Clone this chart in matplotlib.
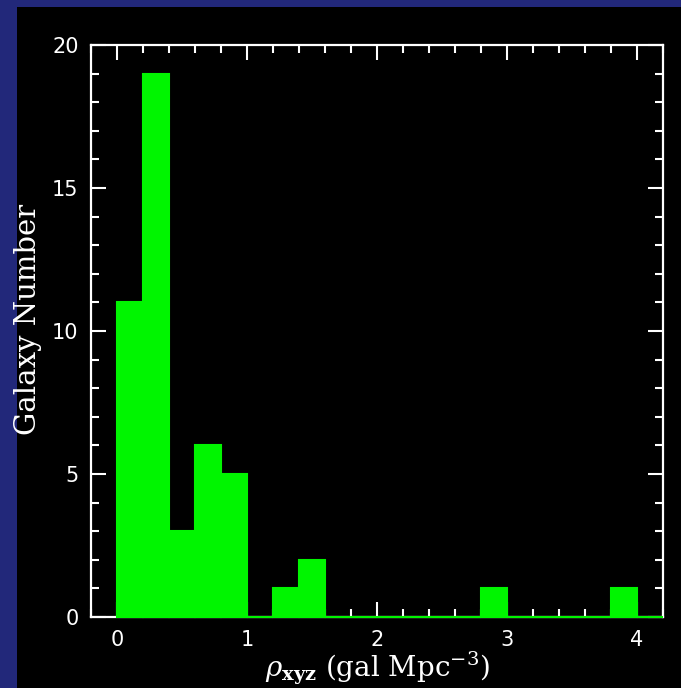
import numpy as np
import matplotlib
matplotlib.use('Agg')
import matplotlib.pyplot as plt
from matplotlib.patches import Rectangle

# histogram bins (gal Mpc^-3) and counts
bin_edges = [0.0, 0.2, 0.4, 0.6, 0.8, 1.0, 1.2, 1.4, 1.6, 1.8, 2.0,
             2.2, 2.4, 2.6, 2.8, 3.0, 3.2, 3.4, 3.6, 3.8, 4.0, 4.2]
counts = [11, 19, 3, 6, 5, 0, 1, 2, 0, 0, 0,
          0, 0, 0, 1, 0, 0, 0, 0, 1, 0]
x_ticks = [0, 1, 2, 3, 4]
y_ticks = [0, 5, 10, 15, 20]

plt.rcParams['mathtext.fontset'] = 'dejavuserif'

navy = '#22287a'
green = '#00f500'

fig = plt.figure(figsize=(6.81, 6.88), dpi=100, facecolor=navy)
# black panel, navy strip left and top
fig.patches.append(Rectangle((17 / 681, 0), 1, 1 - 7 / 688, transform=fig.transFigure,
                             facecolor='black', edgecolor='none', zorder=-5))

ax = fig.add_axes([91 / 681, 1 - 617 / 688, (663 - 91) / 681, (617 - 45) / 688])
ax.set_facecolor('black')

widths = np.diff(bin_edges)
ax.bar(bin_edges[:-1], counts, width=widths, align='edge', color=green,
       edgecolor=green, linewidth=1.5, zorder=3, clip_on=False)

ax.set_xlim(-0.2, 4.2)
ax.set_ylim(0, 20)
ax.set_xticks(x_ticks)
ax.set_yticks(y_ticks)
ax.set_xticks(np.arange(-0.2, 4.21, 0.2), minor=True)
ax.set_yticks(np.arange(0, 20.1, 1), minor=True)

for s in ax.spines.values():
    s.set_color('white')
    s.set_linewidth(1.6)

ax.tick_params(which='both', direction='in', top=True, right=True, colors='white')
ax.tick_params(which='major', length=11, width=1.5, labelsize=15, pad=9)
ax.tick_params(which='minor', length=5.5, width=1.5)

ax.set_xlabel(r'$\rho_{\mathbf{xyz}}$ (gal Mpc$^{-3}$)', family='DejaVu Serif',
              fontsize=20, color='white', labelpad=0)
ax.set_ylabel('Galaxy Number', family='DejaVu Serif', fontsize=21, color='white')
ax.yaxis.set_label_coords(-0.086, 0.52)

fig.savefig('out.png', dpi=100, facecolor=navy)
